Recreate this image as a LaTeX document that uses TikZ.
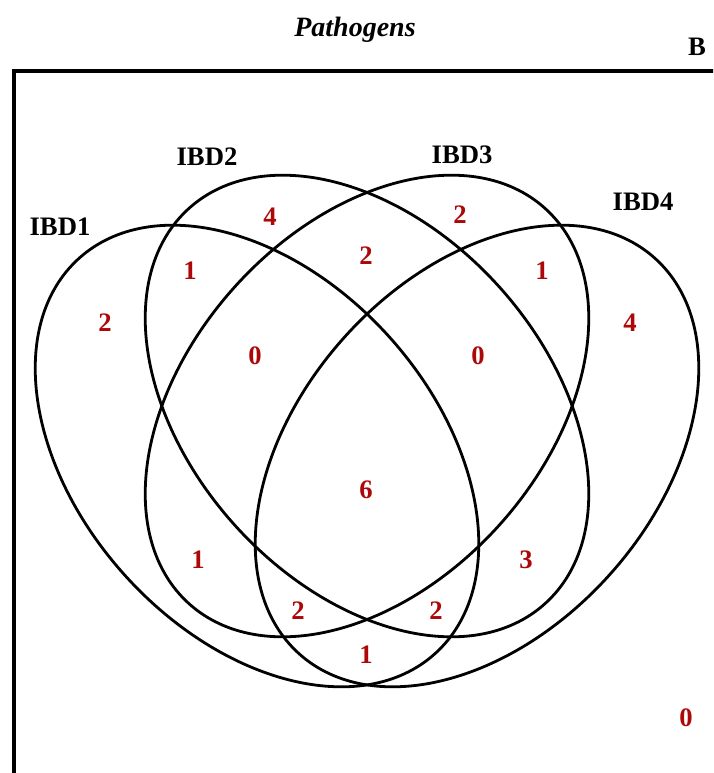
\documentclass[tikz,border=0pt]{standalone}
\usepackage{fontspec}
\setmainfont{Liberation Serif}
\usepackage{tikz}
\usetikzlibrary{positioning}
\definecolor{cntRed}{RGB}{172,8,8}
\tikzset{
  setline/.style  = {line width=2.1pt, black},
  boxline/.style  = {line width=2.8pt, black},
  setlabel/.style = {font=\fontsize{20}{24}\selectfont\bfseries, inner sep=0pt},
  count/.style    = {font=\fontsize{20}{24}\selectfont\bfseries,
                     text=cntRed, inner sep=0pt}
}
\newcommand{\drawset}[3]{%
  \draw[setline, rotate around={#3:(#1,#2)}]
    (#1,#2) ellipse [x radius=266, y radius=178];
}

\begin{document}
\begin{tikzpicture}[x=0.75pt, y=-0.75pt]

  \clip (0,0) rectangle (713,773);

  %% ── Panel frame and headings ──────────────────────────────────
  \draw[boxline] (14,71) rectangle (760,820);
  \node[font=\fontsize{21}{25}\selectfont\bfseries\itshape, inner sep=0pt]
    (title) at (355,30) {Pathogens};
  \node[setlabel] (panel) at (697,47) {B};

  %% ── Sets ──────────────────────────────────────────────────────
  \drawset{257}{456}{-48}   % IBD1
  \drawset{367}{406}{-48}   % IBD2
  \drawset{367}{406}{48}    % IBD3
  \drawset{477}{456}{48}    % IBD4

  %% ── Set names ─────────────────────────────────────────────────
  \node[setlabel] (ibd1) at ( 60,227) {IBD1};
  \node[setlabel] (ibd2) at (207,157) {IBD2};
  \node[setlabel] (ibd3) at (462,155) {IBD3};
  \node[setlabel] (ibd4) at (643,202) {IBD4};

  %% ── Counts ────────────────────────────────────────────────────
  \node[count] (r1)    at (105,323) {2};
  \node[count] (r2)    at (270,217) {4};
  \node[count] (r3)    at (460,215) {2};
  \node[count] (r4)    at (630,323) {4};
  \node[count] (r12)   at (190,271) {1};
  \node[count] (r23)   at (366,256) {2};
  \node[count] (r34)   at (542,271) {1};
  \node[count] (r123)  at (255,356) {0};
  \node[count] (r234)  at (478,356) {0};
  \node[count] (r1234) at (366,490) {6};
  \node[count] (r13)   at (198,560) {1};
  \node[count] (r24)   at (526,560) {3};
  \node[count] (r134)  at (298,611) {2};
  \node[count] (r124)  at (436,611) {2};
  \node[count] (r14)   at (366,655) {1};
  \node[count] (r0)    at (686,718) {0};

\end{tikzpicture}
\end{document}
